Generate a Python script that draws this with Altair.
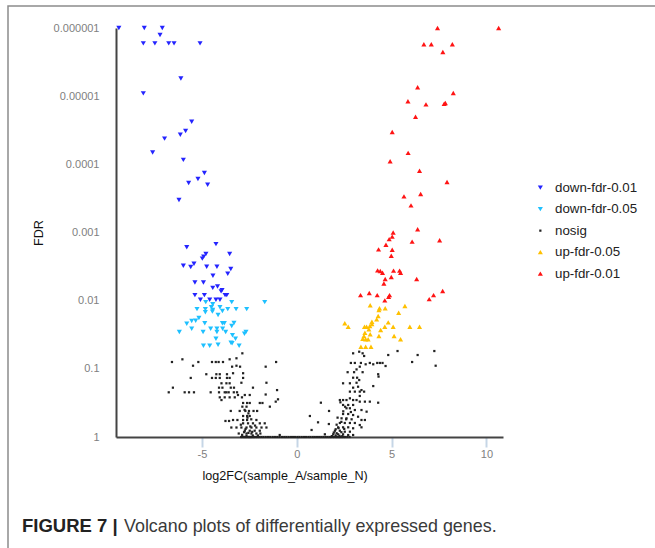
import altair as alt
import pandas as pd

# ---------------- data ----------------
groups = ["down-fdr-0.01", "down-fdr-0.05", "nosig", "up-fdr-0.05", "up-fdr-0.01"]
colors = ["#2424ff", "#1ec0ff", "#222222", "#ffc000", "#ff1414"]
shapes = ["triangle-down", "triangle-down", "square", "triangle-up", "triangle-up"]
sizes = [26, 26, 5, 26, 26]

down01_x = [-9.38, -8.04, -7.09, -7.21, -8.09, -7.48, -6.75, -6.47, -5.10, -6.11, -8.09,
            -5.54, -5.86, -6.14, -6.97, -7.60, -5.98, -4.87, -5.21, -5.70, -4.70, -6.21,
            -5.80, -4.26, -4.79, -4.91, -4.98, -3.54, -5.98, -5.42, -5.59, -4.75, -4.21,
            -3.48, -3.64, -4.42, -5.37, -4.92, -4.18, -4.43, -3.94, -3.99, -5.37, -4.87,
            -3.78, -3.69, -5.08, -4.59, -4.26, -4.05]
down01_fdr = [1.0e-6, 1.0e-6, 1.0e-6, 1.27e-6, 1.68e-6, 1.68e-6, 1.68e-6, 1.68e-6, 1.68e-6, 5.5e-6, 9.1e-6,
              2.37e-5, 3.24e-5, 3.68e-5, 4.2e-5, 6.7e-5, 8.6e-5, 1.34e-4, 1.64e-4, 1.88e-4, 1.99e-4, 3.34e-4,
              1.65e-3, 1.48e-3, 2.07e-3, 2.26e-3, 2.42e-3, 2.07e-3, 3.07e-3, 2.87e-3, 3.21e-3, 3.18e-3, 3.18e-3,
              3.43e-3, 4.02e-3, 4.3e-3, 5.4e-3, 5.4e-3, 6.2e-3, 6.5e-3, 7.0e-3, 7.3e-3, 8.3e-3, 8.3e-3,
              8.3e-3, 8.3e-3, 9.7e-3, 9.7e-3, 9.7e-3, 9.7e-3]

down05_x = [-4.80, -4.43, -3.43, -1.69, -5.26, -4.82, -4.50, -4.43, -4.05, -3.64, -3.20,
            -2.64, -4.82, -4.45, -4.15, -3.92, -5.16, -5.33, -5.54, -5.80, -4.85, -3.92,
            -3.82, -3.31, -3.43, -5.54, -4.54, -4.21, -3.91, -6.19, -4.94, -4.21, -3.75,
            -2.68, -2.76, -3.39, -4.26, -3.23, -3.47, -4.92, -4.59, -4.15, -3.41, -3.04]
down05_fdr = [0.0105, 0.0113, 0.0105, 0.0105, 0.0133, 0.0133, 0.0125, 0.0137, 0.0125, 0.0133, 0.0133,
              0.0133, 0.0148, 0.0145, 0.0162, 0.0142, 0.0180, 0.0197, 0.0199, 0.0218, 0.0215, 0.0215,
              0.0215, 0.0213, 0.0235, 0.0258, 0.0258, 0.0258, 0.0258, 0.0288, 0.0288, 0.0288, 0.0288,
              0.0288, 0.0305, 0.0322, 0.0361, 0.0361, 0.0414, 0.0458, 0.0458, 0.0443, 0.0422, 0.0458]

up01_x = [7.42, 10.64, 6.70, 7.09, 8.20, 7.70, 6.37, 8.25, 5.86, 6.81,
          7.77, 7.83, 6.26, 5.03, 5.87, 4.92, 6.47, 7.92, 5.65, 6.53,
          6.02, 6.37, 5.08, 5.03, 4.87, 4.70, 6.08, 7.53, 4.31, 5.03,
          4.98, 4.26, 4.40, 4.52, 5.10, 5.42, 5.47, 4.98, 4.66, 4.59,
          6.32, 3.36, 3.82, 4.24, 4.89, 4.84, 4.64, 6.98, 7.21, 7.69]
up01_fdr = [1.0e-6, 1.0e-6, 1.73e-6, 1.73e-6, 1.73e-6, 2.25e-6, 7.4e-6, 9.0e-6, 1.19e-5, 1.32e-5,
            1.29e-5, 1.26e-5, 2.0e-5, 3.36e-5, 6.8e-5, 9.0e-5, 1.24e-4, 1.82e-4, 2.95e-4, 2.72e-4,
            4.0e-4, 8.97e-4, 1.0e-3, 1.15e-3, 1.25e-3, 1.51e-3, 1.36e-3, 1.30e-3, 1.77e-3, 1.79e-3,
            2.19e-3, 3.59e-3, 3.67e-3, 3.89e-3, 3.63e-3, 3.63e-3, 3.89e-3, 4.5e-3, 4.8e-3, 5.6e-3,
            4.8e-3, 8.3e-3, 7.7e-3, 8.3e-3, 8.3e-3, 8.8e-3, 9.9e-3, 9.5e-3, 8.3e-3, 7.2e-3]

up05_x = [3.87, 4.36, 4.33, 4.66, 5.70, 5.37, 4.29, 4.21, 2.53, 2.71,
          3.57, 3.68, 3.85, 3.96, 3.96, 4.82, 4.64, 5.08, 5.96, 6.47,
          3.80, 4.42, 3.59, 3.54, 3.87, 4.33, 5.13, 3.48, 3.63, 3.76,
          5.47, 3.38, 3.63, 3.91]
up05_fdr = [0.0117, 0.0129, 0.0137, 0.0129, 0.0120, 0.0150, 0.0168, 0.0188, 0.0215, 0.0241,
            0.0241, 0.0241, 0.0235, 0.0220, 0.0204, 0.0208, 0.0241, 0.0241, 0.0241, 0.0241,
            0.0263, 0.0269, 0.0295, 0.0330, 0.0311, 0.0330, 0.0330, 0.0361, 0.0369, 0.0369,
            0.0369, 0.0473, 0.0473, 0.0473]

nosig_x = [
    -6.58, -6.03, -5.47, -5.19, -4.47, -4.27, -4.12, -3.89, -3.54, -3.18, -2.87, -3.41, -3.18, -2.99, -1.64, -1.09,
    -4.77, -4.24, -4.06, -3.68, -3.36, -2.83, -5.59, -4.47, -4.27, -4.06, -3.68, -3.54, -2.83,
    -3.97, -3.71, -3.54, -2.92, -1.60, -6.53, -4.10, -3.92, -3.48, -3.31, -2.31, -1.04,
    -6.75, -5.91, -5.68, -5.42, -4.54, -4.10, -3.80, -3.71, -3.59, -3.32, -3.15,
    -3.10, -2.74, -2.48, -1.64, -4.06, -3.80, -3.54, -3.27, -2.89,
    -0.99, -1.11, -3.97, -2.83, -2.62, -2.48, -1.95, -1.81, -2.87, -2.65, -1.42,
    -3.48, -3.01, -2.71, -2.52, -2.28, -2.09, -2.83, -2.62, -2.48,
    -3.36, -3.13, -2.83, -2.62, -2.13, -3.76, -3.57,
    -2.83, -2.57, -2.31, -1.95, -1.69,
    -3.45, -3.18, -2.92, -2.65, -2.39, -2.13, -1.86, -1.60,
    -2.74, -2.48, -2.22, -1.95, -3.06, -2.65, -2.39, -2.13, -1.92, -0.90,
    -2.78, -2.55, -2.35, -2.70, -2.45, -2.20, -2.95, -2.60, -2.40, -2.55, -2.75, -2.32, -2.05, -2.65, -2.88,
    1.27, 1.70, 0.69, 1.12, 1.69, 0.78, 1.48,
    2.97, 3.29, 3.47, 3.55, 4.82, 5.31, 6.37, 7.25, 7.32, 6.08,
    2.85, 3.06, 3.38, 3.85, 4.24, 4.38, 4.52, 3.63, 4.03,
    4.68, 2.68, 3.02, 3.15, 3.32, 3.47, 4.29, 4.31,
    2.97, 3.18, 3.29, 3.15, 2.44, 2.80, 4.03, 2.97, 3.23, 3.41,
    2.80, 3.06, 3.32, 3.55, 3.32, 2.27, 2.44, 2.62, 2.97, 3.15, 2.80,
    3.32, 3.59, 3.85, 4.29, 2.44, 2.71, 2.97, 2.62, 2.80, 3.06, 3.41, 3.68,
    2.44, 2.71, 2.97, 3.23, 2.36, 2.62, 2.89, 3.41, 3.59,
    2.27, 2.53, 2.80, 3.06, 3.32, 2.18, 2.44, 2.71, 3.41, 2.97,
    2.01, 2.27, 2.53, 2.80, 1.92, 2.18, 2.44, 2.71, 2.97,
    1.85, 2.05, 2.25, 2.40, 1.95, 2.10, 2.35, 2.05, 2.20, 2.50, 2.10, 2.35, 2.60, 2.15, 2.45, 2.55, 2.30, 2.85,
]
nosig_fdr = [
    0.0794, 0.0725, 0.090, 0.0794, 0.0794, 0.0794, 0.0794, 0.0794, 0.0725, 0.070, 0.0592, 0.093, 0.090, 0.093, 0.093, 0.0794,
    0.120, 0.120, 0.120, 0.120, 0.116, 0.116, 0.136, 0.136, 0.136, 0.136, 0.136, 0.136, 0.136,
    0.163, 0.163, 0.163, 0.160, 0.160, 0.189, 0.189, 0.189, 0.189, 0.189, 0.189, 0.205,
    0.221, 0.221, 0.221, 0.221, 0.221, 0.221, 0.221, 0.221, 0.221, 0.221, 0.221,
    0.242, 0.242, 0.242, 0.238, 0.262, 0.262, 0.262, 0.262, 0.262,
    0.280, 0.303, 0.287, 0.317, 0.317, 0.317, 0.317, 0.317, 0.359, 0.359, 0.359,
    0.415, 0.415, 0.415, 0.415, 0.415, 0.415, 0.492, 0.492, 0.492,
    0.563, 0.563, 0.563, 0.563, 0.563, 0.582, 0.582,
    0.630, 0.630, 0.630, 0.630, 0.630,
    0.726, 0.726, 0.726, 0.726, 0.726, 0.726, 0.726, 0.726,
    0.809, 0.809, 0.809, 0.809, 0.889, 0.889, 0.889, 0.889, 0.889, 0.935,
    0.85, 0.87, 0.84, 0.76, 0.70, 0.68, 0.66, 0.52, 0.55, 0.45, 0.40, 0.95, 0.95, 0.96, 0.93,
    0.314, 0.415, 0.492, 0.609, 0.645, 0.789, 0.913,
    0.0592, 0.0561, 0.0592, 0.0648, 0.0627, 0.0548, 0.0627, 0.0548, 0.090, 0.0794,
    0.082, 0.082, 0.082, 0.082, 0.082, 0.082, 0.082, 0.0858, 0.0858,
    0.0909, 0.112, 0.112, 0.102, 0.093, 0.112, 0.120, 0.130,
    0.135, 0.135, 0.146, 0.160, 0.163, 0.163, 0.179, 0.189, 0.183, 0.205,
    0.216, 0.216, 0.216, 0.216, 0.250, 0.287, 0.287, 0.287, 0.287, 0.287, 0.271,
    0.303, 0.303, 0.303, 0.314, 0.339, 0.339, 0.339, 0.379, 0.379, 0.402, 0.402, 0.425,
    0.460, 0.460, 0.476, 0.504, 0.532, 0.532, 0.550, 0.563, 0.563,
    0.623, 0.623, 0.623, 0.623, 0.667, 0.721, 0.721, 0.721, 0.721, 0.745,
    0.809, 0.809, 0.836, 0.836, 0.913, 0.913, 0.913, 0.935, 0.935,
    0.97, 0.95, 0.96, 0.97, 0.86, 0.88, 0.85, 0.77, 0.74, 0.76, 0.66, 0.60, 0.55, 0.52, 0.42, 0.36, 0.31, 0.43,
]

# genes sitting at FDR = 1 (the dense band on the baseline)
nosig_base_x = [-2.93, -2.86, -2.78, -2.71, -2.66, -2.58, -2.52, -2.47, -2.41, -2.35, -2.28, -2.22,
                -2.15, -2.07, -1.98, -1.87, -1.76, -1.64, -1.52, -1.40, -1.27, -1.15, -1.03, -0.91,
                -0.78, -0.66, -0.55, -0.43, -0.31, -0.20, -0.09, 0.03, 0.14, 0.26, 0.38, 0.49,
                0.61, 0.72, 0.84, 0.95, 1.07, 1.18, 1.29, 1.40, 1.51, 1.61, 1.72, 1.81, 1.90,
                1.98, 2.06, 2.14, 2.21, 2.29, 2.37, 2.46, 2.55, 2.66, 2.78]

# ---------------- table ----------------
rows = []
for gx, gf, name in [(nosig_x, nosig_fdr, "nosig"),
                     (nosig_base_x, [1.0] * len(nosig_base_x), "nosig"),
                     (down05_x, down05_fdr, "down-fdr-0.05"),
                     (up05_x, up05_fdr, "up-fdr-0.05"),
                     (down01_x, down01_fdr, "down-fdr-0.01"),
                     (up01_x, up01_fdr, "up-fdr-0.01")]:
    for xv, fv in zip(gx, gf):
        rows.append({"group": name, "log2FC": xv, "FDR": fv})
df = pd.DataFrame(rows)

FONT = "Liberation Sans"

points = alt.Chart(df).mark_point(filled=True, opacity=1, strokeWidth=0).encode(
    x=alt.X("log2FC:Q",
            scale=alt.Scale(domain=[-9.53, 10.87], nice=False, zero=False),
            axis=alt.Axis(values=[-5, 0, 5, 10], labelExpr="'' + datum.value",
                          title="log2FC(sample_A/sample_N)", grid=False,
                          tickSize=10, tickWidth=2, tickColor="#c6d6e6", labelPadding=1,
                          titleX=168.6, titleY=38, titleAlign="center", titleBaseline="middle")),
    y=alt.Y("FDR:Q",
            scale=alt.Scale(type="log", domain=[1e-6, 1], reverse=True, nice=False),
            axis=alt.Axis(values=[1e-6, 1e-5, 1e-4, 1e-3, 1e-2, 1e-1, 1], format=".6~f",
                          title="FDR", grid=False, ticks=False, tickSize=0, labelPadding=17,
                          titleAngle=270, titleX=-78, titleY=204.5,
                          titleAlign="center", titleBaseline="middle")),
    color=alt.Color("group:N", scale=alt.Scale(domain=groups, range=colors), legend=alt.Legend(title=None)),
    shape=alt.Shape("group:N", scale=alt.Scale(domain=groups, range=shapes), legend=alt.Legend(title=None)),
    size=alt.Size("group:N", scale=alt.Scale(type="ordinal", domain=groups, range=sizes),
                  legend=alt.Legend(title=None)),
)

one = pd.DataFrame({"k": [0]})
frame = alt.Chart(one).mark_rect(fill="transparent", stroke="#8c8c8c", strokeWidth=1.5).encode(
    x=alt.value(-108), x2=alt.value(600), y=alt.value(-22), y2=alt.value(600))

cap1 = alt.Chart(one).mark_text(text="FIGURE 7 |", align="left", baseline="alphabetic", font=FONT,
                                fontSize=18.5, fontWeight="bold", color="#222222").encode(
    x=alt.value(-94), y=alt.value(504))
cap2 = alt.Chart(one).mark_text(text="Volcano plots of differentially expressed genes.", align="left",
                                baseline="alphabetic", font=FONT, fontSize=17.9, color="#3a3a3a").encode(
    x=alt.value(8), y=alt.value(504))

chart = alt.layer(frame, points, cap1, cap2).properties(
    width=387, height=409,
    autosize=alt.AutoSizeParams(type="none"),
    padding={"left": 116, "top": 28, "right": 152, "bottom": 111},
).configure_view(strokeWidth=0).configure_axis(
    domainColor="#444444", domainWidth=2,
    labelFont=FONT, labelFontSize=11, labelColor="#808080",
    titleFont=FONT, titleFontSize=12.6, titleColor="#111111", titleFontWeight="normal",
).configure_legend(
    orient="none", legendX=417.7, legendY=153, padding=0, rowPadding=7.5,
    labelFont=FONT, labelFontSize=13.3, labelColor="#222222", labelOffset=8,
    symbolStrokeWidth=0, symbolOpacity=1,
)

chart.save("out.html", embed_options={"renderer": "svg", "actions": False})
